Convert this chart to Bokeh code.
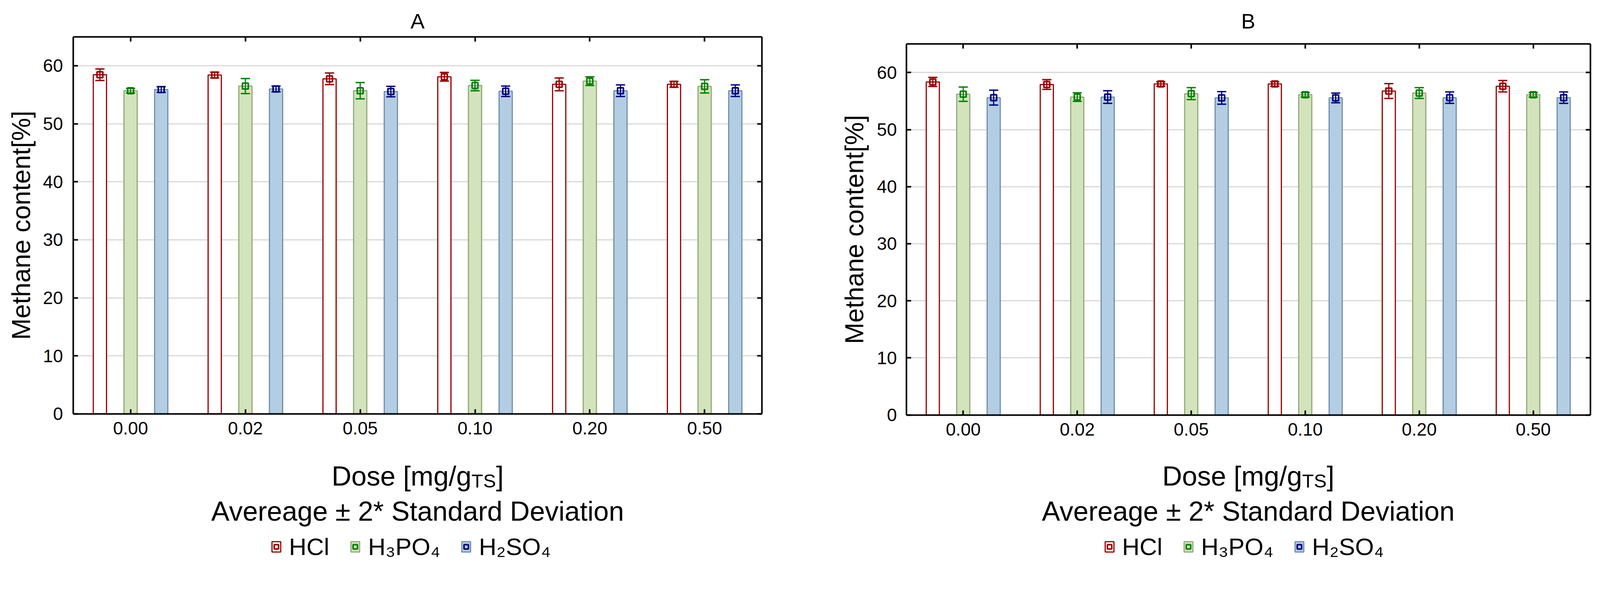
import math

from bokeh.embed import file_html
from bokeh.layouts import row
from bokeh.models import (ColumnDataSource, FixedTicker, Label, Legend, LegendItem, LinearAxis,
                          Range1d)
from bokeh.plotting import figure
from bokeh.resources import INLINE
from bokeh.transform import dodge

doses = ["0.00", "0.02", "0.05", "0.10", "0.20", "0.50"]
acids = ["HCl", "H₃PO₄", "H₂SO₄"]
y_ticks = [0, 10, 20, 30, 40, 50, 60]

# panel A: mean and 2*SD
hcl_a = [58.45, 58.4, 57.75, 58.1, 56.8, 56.8]
hcl_a_err = [1.0, 0.5, 1.0, 0.75, 1.1, 0.5]
h3po4_a = [55.7, 56.5, 55.7, 56.6, 57.35, 56.45]
h3po4_a_err = [0.4, 1.3, 1.4, 0.9, 0.75, 1.15]
h2so4_a = [55.9, 56.0, 55.55, 55.6, 55.7, 55.7]
h2so4_a_err = [0.5, 0.5, 0.9, 0.9, 1.0, 1.0]

# panel B
hcl_b = [58.35, 57.9, 58.0, 58.0, 56.75, 57.6]
hcl_b_err = [0.8, 0.85, 0.4, 0.4, 1.3, 1.0]
h3po4_b = [56.2, 55.7, 56.3, 56.1, 56.4, 56.1]
h3po4_b_err = [1.25, 0.75, 1.05, 0.4, 0.95, 0.4]
h2so4_b = [55.6, 55.7, 55.55, 55.55, 55.6, 55.6]
h2so4_b_err = [1.3, 1.1, 1.1, 0.85, 1.0, 1.0]

FONT = "Liberation Sans"
bar_fill = ["white", "#d3e4bc", "#b3cde3"]
bar_line = ["#990000", "#94a97b", "#7090ab"]
mark_color = ["#990000", "#008000", "#000080"]
offsets = [-0.267, 0.0, 0.267]

n = len(doses)
centres = [i + 0.5 for i in range(n)]


def txt(p, x, y, text, size, align="left", angle=0):
    p.add_layout(Label(x=x, y=y, x_units="screen", y_units="screen", text=text, angle=angle,
                       text_font=FONT, text_font_size=size, text_color="black",
                       text_align=align, text_baseline="alphabetic"))


def frame_axis(ax, labels=True):
    ax.axis_line_width = 4
    ax.major_tick_in = 12
    ax.major_tick_out = 0
    ax.major_tick_line_width = 4
    ax.minor_tick_line_color = None
    if labels:
        ax.major_label_text_font = FONT
        ax.major_label_text_font_size = "46px"
        ax.major_label_text_color = "black"
    else:
        ax.major_label_text_color = None
        ax.major_label_standoff = 0


def panel(name, means, errs, width, height, xr, yr, plot_left, plot_w, tick_gap, ylab_x, ylab_y):
    p = figure(x_range=Range1d(*xr), y_range=Range1d(*yr),
               width=width, height=height, output_backend="svg", toolbar_location=None,
               min_border_left=0, min_border_right=0, min_border_top=0, min_border_bottom=0)
    p.background_fill_color = "white"
    p.border_fill_color = "white"
    p.outline_line_color = None

    data = dict(xc=centres, dose=doses)
    for i in range(3):
        data["v%d" % i] = means[i]
        data["lo%d" % i] = [m - e for m, e in zip(means[i], errs[i])]
        data["hi%d" % i] = [m + e for m, e in zip(means[i], errs[i])]
    src = ColumnDataSource(data)

    p.xgrid.visible = False
    grid = p.ygrid[0]
    grid.ticker = FixedTicker(ticks=y_ticks)
    grid.grid_line_color = "#d9d9d9"
    grid.grid_line_width = 3
    if "cross_bounds" in grid.properties():
        grid.cross_bounds = (0, n)
    else:
        grid.visible = False
        p.segment(x0=0, x1=n, y0=y_ticks[1:], y1=y_ticks[1:], line_color="#d9d9d9", line_width=3)

    items = []
    for i, acid in enumerate(acids):
        off = offsets[i]
        bar = p.vbar(x=dodge("xc", off), top="v%d" % i, bottom=0, width=0.115,
                     source=src, fill_color=bar_fill[i], line_color=bar_line[i], line_width=3)
        p.segment(x0=dodge("xc", off), y0="lo%d" % i, x1=dodge("xc", off), y1="hi%d" % i,
                  source=src, line_color=mark_color[i], line_width=3)
        for end in ("lo", "hi"):
            p.segment(x0=dodge("xc", off - 0.04), y0="%s%d" % (end, i),
                      x1=dodge("xc", off + 0.04), y1="%s%d" % (end, i),
                      source=src, line_color=mark_color[i], line_width=3.5)
        mk = p.scatter(x=dodge("xc", off), y="v%d" % i, source=src,
                       marker="square", size=15, fill_color=None,
                       line_color=mark_color[i], line_width=4)
        items.append(LegendItem(label=acid, renderers=[bar, mk]))

    # axes drawn at the edges of the data area
    ya = p.yaxis[0]
    ya.ticker = FixedTicker(ticks=y_ticks)
    ya.bounds = (0, 65)
    ya.fixed_location = 0
    frame_axis(ya)
    ya.major_label_standoff = tick_gap

    xa = p.xaxis[0]
    xa.ticker = FixedTicker(ticks=centres)
    xa.major_label_overrides = {c: d for c, d in zip(centres, doses)}
    xa.bounds = (0, n)
    xa.fixed_location = 0
    frame_axis(xa)
    xa.major_label_standoff = 21

    right_ax = LinearAxis(ticker=FixedTicker(ticks=y_ticks), bounds=(0, 65), fixed_location=n)
    frame_axis(right_ax, labels=False)
    p.add_layout(right_ax, "right")
    top_ax = LinearAxis(ticker=FixedTicker(ticks=centres), bounds=(0, n), fixed_location=65)
    frame_axis(top_ax, labels=False)
    p.add_layout(top_ax, "above")

    cx = plot_left + plot_w / 2

    txt(p, ylab_x, ylab_y, "Methane content[%]", "66px", "center", math.pi / 2)
    txt(p, cx, 1393, name, "54px", "center")

    # x-axis title with subscript
    x0 = cx - 220
    txt(p, x0, 227, "Dose [mg/g", "70px")
    txt(p, x0 + 358, 215, "TS", "49px")
    txt(p, x0 + 421, 227, "]", "70px")

    txt(p, cx, 137, "Avereage ± 2* Standard Deviation", "70px", "center")

    legend = Legend(items=items, orientation="horizontal", location=(plot_left + 506, 10),
                    glyph_width=28, glyph_height=33, label_standoff=19, spacing=52,
                    padding=0, margin=0, border_line_color=None, background_fill_alpha=0,
                    label_text_font=FONT, label_text_font_size="62px", label_text_color="black")
    p.add_layout(legend)
    return p


pa = panel("A", [hcl_a, h3po4_a, h2so4_a], [hcl_a_err, h3po4_a_err, h2so4_a_err],
           2132, 1446, (-0.6355, 6.618), (-25.98, 71.30), 186.8, 1763.5, 26, 53.0, 869.3)
pb = panel("B", [hcl_b, h3po4_b, h2so4_b], [hcl_b_err, h3po4_b_err, h2so4_b_err],
           1951, 1446, (-0.6425, 6.0428), (-26.21, 72.67), 187.5, 1751.0, 24, 54.0, 858.5)

layout = row(pa, pb)
open("out.html", "w").write(file_html(layout, INLINE))
